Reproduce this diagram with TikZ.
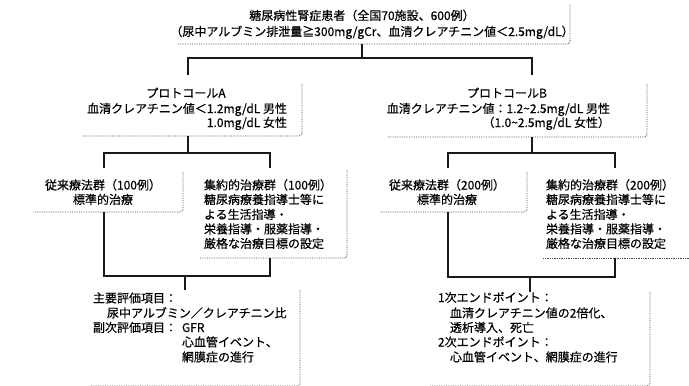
\documentclass[tikz,border=0pt]{standalone}
\usepackage{fontspec}
\setmainfont{Noto Sans CJK JP}[FakeBold=0.5]
\usetikzlibrary{fit}
\newcommand{\myfs}{\fontsize{12pt}{14.6pt}\selectfont}
\begin{document}
\begin{tikzpicture}[x=1pt,y=-1pt,
  txt/.style={inner sep=0pt, outer sep=0pt, font=\myfs, text=black},
  frame/.style={inner sep=0pt, outer sep=0pt},
  shadowedge/.style={draw=black!70, densely dotted, line width=0.75pt, rounded corners=3pt},
  link/.style={draw=black!90, line width=1.2pt}]
\useasboundingbox[fill=white] (0,0) rectangle (689,386);

% ---------- frames (right/bottom dotted edges) ----------
\node[frame, fit={(178,5) (570,44)}] (T) {};
\node[frame, fit={(82,84) (302,136)}] (pA) {};
\node[frame, fit={(387,84) (647,137)}] (pB) {};
\node[frame, fit={(33,172) (183,212)}] (cA1) {};
\node[frame, fit={(200,170) (347,258)}] (cA2) {};
\node[frame, fit={(380,172) (527,212)}] (cB1) {};
\node[frame, fit={(543,170) (689,258)}] (cB2) {};
\node[frame, fit={(90,290) (300,386)}] (eA) {};
\node[frame, fit={(430,292) (650,386)}] (eB) {};

\foreach \n in {T,pA,pB,cA1,cA2,cB1,eA,eB}
  \draw[shadowedge] (\n.north east) -- (\n.south east) -- (\n.south west);
\draw[shadowedge] (cB2.south west) -- (cB2.south east);

% ---------- texts ----------
\node[txt, anchor=base] (T1) at (362,20) {糖尿病性腎症患者（全国70施設、600例）};
\node[txt, anchor=base] (T2) at (372,36) {（尿中アルブミン排泄量≧300mg/gCr、血清クレアチニン値＜2.5mg/dL）};

\node[txt, anchor=base] (pA1) at (186,97.5) {プロトコールA};
\node[txt, anchor=base east] (pA2) at (287,113) {血清クレアチニン値＜1.2mg/dL 男性};
\node[txt, anchor=base east] (pA3) at (287,127) {1.0mg/dL 女性};

\node[txt, anchor=base] (pB1) at (507,97.5) {プロトコールB};
\node[txt, anchor=base east] (pB2) at (610,113) {血清クレアチニン値：1.2\textasciitilde2.5mg/dL 男性};
\node[txt, anchor=base east] (pB3) at (610,127) {（1.0\textasciitilde2.5mg/dL 女性）};

\node[txt, anchor=base] (cA1a) at (103,189.5) {従来療法群（100例）};
\node[txt, anchor=base] (cA1b) at (103,204) {標準的治療};

\node[txt, anchor=base west] (cA2a) at (204,189.5) {集約的治療群（100例）};
\node[txt, anchor=base west] (cA2b) at (204,204) {糖尿病療養指導士等に};
\node[txt, anchor=base west] (cA2c) at (204,219) {よる生活指導・};
\node[txt, anchor=base west] (cA2d) at (204,233.5) {栄養指導・服薬指導・};
\node[txt, anchor=base west] (cA2e) at (204,248) {厳格な治療目標の設定};

\node[txt, anchor=base] (cB1a) at (447,189.5) {従来療法群（200例）};
\node[txt, anchor=base] (cB1b) at (447,204) {標準的治療};

\node[txt, anchor=base west] (cB2a) at (546,189.5) {集約的治療群（200例）};
\node[txt, anchor=base west] (cB2b) at (546,204) {糖尿病療養指導士等に};
\node[txt, anchor=base west] (cB2c) at (546,219) {よる生活指導・};
\node[txt, anchor=base west] (cB2d) at (546,233.5) {栄養指導・服薬指導・};
\node[txt, anchor=base west] (cB2e) at (546,248) {厳格な治療目標の設定};

\node[txt, anchor=base west] (eA1) at (93,302.5) {主要評価項目：};
\node[txt, anchor=base west] (eA2) at (107,317.5) {尿中アルブミン／クレアチニン比};
\node[txt, anchor=base west] (eA3) at (93,332) {副次評価項目：};
\node[txt, anchor=base west] (eA4) at (182,332) {GFR};
\node[txt, anchor=base west] (eA5) at (182,346.5) {心血管イベント、};
\node[txt, anchor=base west] (eA6) at (182,361.5) {網膜症の進行};

\node[txt, anchor=base west] (eB1) at (438,302) {1次エンドポイント：};
\node[txt, anchor=base west] (eB2) at (450,317.5) {血清クレアチニン値の2倍化、};
\node[txt, anchor=base west] (eB3) at (450,332) {透析導入、死亡};
\node[txt, anchor=base west] (eB4) at (438,346.5) {2次エンドポイント：};
\node[txt, anchor=base west] (eB5) at (450,361.5) {心血管イベント、網膜症の進行};

% ---------- connectors ----------
\coordinate (jT) at (362,58);
\coordinate (aTop) at (188,75);
\coordinate (bTop) at (532,75);
\draw[link] (T.south -| jT) -- (jT);
\draw[link] (aTop) |- (jT) -| (bTop);

\coordinate (jA) at (188,153);
\coordinate (a1Top) at (104,168);
\coordinate (a2Top) at (270,168);
\draw[link] (pA.south -| jA) -- (jA);
\draw[link] (a1Top) |- (jA) -| (a2Top);
\coordinate (kA) at (185,276);
\draw[link] (cA1.south -| a1Top) |- (kA);
\draw[link] (cA2.south -| a2Top) |- (kA);
\draw[link] (kA) -- (eA.north -| kA);

\coordinate (jB) at (532,153);
\coordinate (b1Top) at (448,168);
\coordinate (b2Top) at (615,168);
\draw[link] (pB.south -| jB) -- (jB);
\draw[link] (b1Top) |- (jB) -| (b2Top);
\coordinate (kB) at (530,277);
\draw[link] (cB1.south -| b1Top) |- (kB);
\draw[link] (cB2.south -| b2Top) |- (kB);
\draw[link] (kB) -- (eB.north -| kB);
\end{tikzpicture}
\end{document}
